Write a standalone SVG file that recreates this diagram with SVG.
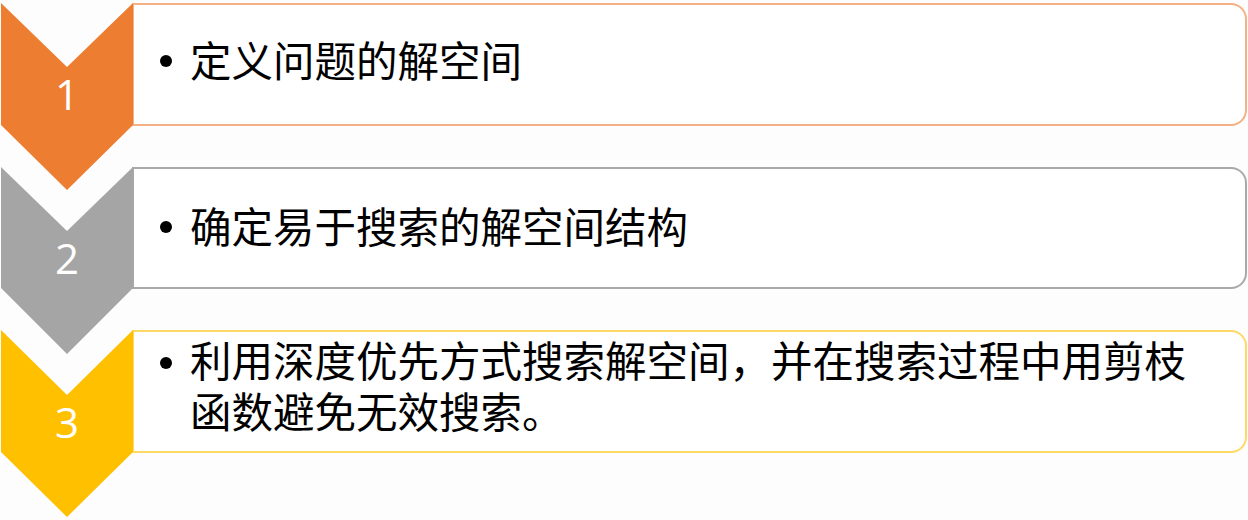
<svg xmlns="http://www.w3.org/2000/svg" width="1248" height="520" viewBox="0 0 1248 520">
<style>
.box{fill:#ffffff;stroke-width:2}
.num{font-family:"Open Sans","Liberation Sans",sans-serif;font-size:42px;fill:#ffffff;text-anchor:middle}
.txt{font-family:"Noto Sans CJK SC","Noto Sans",sans-serif;font-size:41.5px;fill:#000000}
.dot{fill:#000000}
</style>
<rect width="1248" height="520" fill="#fdfdfd"/>
<g id="step1">
<path class="box" stroke="#f4b183" d="M133,4 H1231 A15,15 0 0 1 1246,19 V110 A15,15 0 0 1 1231,125 H133 Z"/>
<polygon fill="#ed7d31" points="1,3 67,67 133,3 133,125 67,190 1,125"/>
<text class="num" x="67" y="110">1</text>
<circle class="dot" cx="166" cy="61" r="6"/>
<text class="txt" x="190" y="77">定义问题的解空间</text>
</g>
<g id="step2">
<path class="box" stroke="#a9a9a9" d="M133,168 H1231 A15,15 0 0 1 1246,183 V273 A15,15 0 0 1 1231,288 H133 Z"/>
<polygon fill="#a5a5a5" points="1,167 67,231 133,167 133,288 67,354 1,288"/>
<text class="num" x="67" y="274">2</text>
<circle class="dot" cx="166" cy="227" r="6"/>
<text class="txt" x="190" y="243">确定易于搜索的解空间结构</text>
</g>
<g id="step3">
<path class="box" stroke="#ffd966" d="M133,331 H1231 A15,15 0 0 1 1246,346 V437 A15,15 0 0 1 1231,452 H133 Z"/>
<polygon fill="#ffc000" points="1,330 67,395 133,330 133,452 67,517 1,452"/>
<text class="num" x="67" y="438">3</text>
<circle class="dot" cx="166" cy="363" r="6"/>
<text class="txt" x="190" y="377">利用深度优先方式搜索解空间，并在搜索过程中用剪枝<tspan x="190" y="428">函数避免无效搜索。</tspan></text>
</g>
<g id="connectors"></g>
</svg>
